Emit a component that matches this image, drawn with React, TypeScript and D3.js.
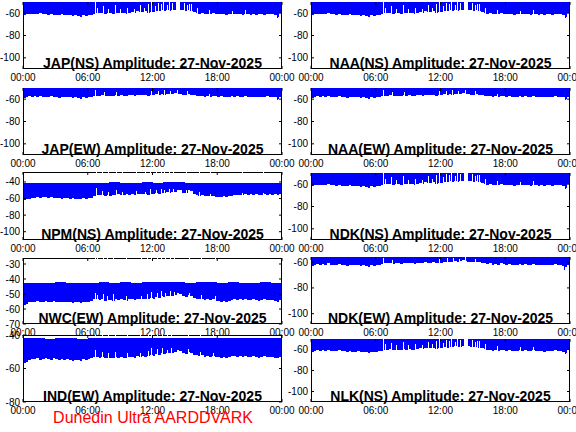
import React from "react";
import * as d3 from "d3";

const W = 576;
const H = 432;
const FONT = "'Liberation Sans', Arial, Helvetica, sans-serif";
const BLUE = "#0000ff";

const TIME_TICKS = [0, 6, 12, 18, 24];
const TIME_LABELS = ["00:00", "06:00", "12:00", "18:00", "00:00"];
const DATE_LABEL = "27-Nov-2025";
const FOOTER = "Dunedin Ultra AARDDVARK";

// lower edge of the amplitude band, 15-minute bins (dB)
const nsLow = [
  -62, -61, -60.5, -61, -60.5, -61, -60, -61, -61, -61.5, -60.5, -61.5,
  -61.5, -62, -61, -62, -62, -61.5, -62.5, -62, -62.5, -63, -62, -62.5,
  -62, -61.5, -61, -60, -60, -59.5, -60.5, -60, -60, -60.5, -59.5, -60,
  -59.5, -60, -60.5, -59.5, -59, -59.5, -58.5, -59, -59, -58.5, -59.5, -59,
  -59, -58, -58.5, -57.5, -58, -57, -58, -57.5, -57, -56, -57, -57.5,
  -58, -57.5, -58.5, -59, -59.5, -60.5, -60, -61, -60.5, -61, -60, -60.5,
  -61, -60.5, -61, -61.5, -61, -60.5, -61, -60.5, -61, -61.5, -60.5, -61,
  -61.5, -61, -62, -61, -61, -61.5, -60.5, -61, -61, -62, -63, -60,
];
const nsSpikes: [number, number][] = [
  [6.7, -50], [6.9, -55], [7.4, -54], [7.9, -56], [8.5, -53], [9.0, -56],
  [9.6, -55], [10.3, -56], [10.8, -53], [11.2, -55], [11.6, -52], [11.9, -50],
  [12.2, -54], [12.5, -51], [12.8, -52], [13.0, -50], [13.3, -53], [13.5, -50],
  [13.8, -51], [14.2, -48], [14.3, -48], [14.4, -48], [14.5, -48], [14.9, -51],
  [15.2, -53], [15.4, -52], [15.6, -52], [16.1, -55], [17.2, -57], [19.4, -58],
  [20.6, -57.5], [23.5, -64],
];

const ewLow = [
  -59, -58, -57.5, -58, -57.5, -58, -57, -58, -58, -58.5, -57.5, -58,
  -58.5, -59, -58, -58.5, -58.5, -58, -59, -58.5, -59, -59.5, -58.5, -59,
  -58.5, -58, -57.5, -57, -57, -56.5, -57.5, -57, -57, -57.5, -56.5, -57,
  -56.5, -57, -57.5, -56.5, -56.5, -57, -56, -56.5, -56.5, -56, -57, -56.5,
  -56.5, -55.5, -56, -55.5, -56, -55, -55.5, -55, -54.5, -55, -55.5, -56,
  -56, -55.5, -56, -56.5, -57, -57.5, -57, -58, -57.5, -58, -57, -57.5,
  -58, -57.5, -58, -58.5, -58, -57.5, -58, -57.5, -58, -58.5, -57.5, -58,
  -58.5, -58, -58.5, -58, -58, -58.5, -57.5, -58, -58, -58.5, -59.5, -58,
];
const ewSpikes: [number, number][] = [
  [6.7, -52], [7.5, -54], [8.6, -54], [11.9, -53], [12.5, -53], [13.1, -52],
  [13.6, -53], [14.3, -52], [15.2, -53], [17.2, -55], [23.5, -60.5],
];

const ndkEwLow = [
  -63, -62, -61.5, -62, -61.5, -62, -61, -62, -62, -62.5, -61.5, -62,
  -62.5, -63, -62, -62.5, -62.5, -62, -63, -62.5, -63, -63.5, -62.5, -63,
  -62.5, -62, -61.5, -61, -61, -60.5, -61.5, -61, -61, -61.5, -60.5, -61,
  -60.5, -61, -61.5, -60.5, -60.5, -61, -60, -60.5, -60.5, -60, -61, -60.5,
  -60.5, -59.5, -60, -59.5, -60, -59, -59.5, -59, -58.5, -59, -59.5, -60,
  -60, -59.5, -60, -60.5, -61, -61.5, -61, -62, -61.5, -62, -61, -61.5,
  -62, -61.5, -62, -62.5, -62, -61.5, -62, -61.5, -62, -62.5, -61.5, -62,
  -62.5, -62, -62.5, -62, -62, -62.5, -61.5, -62, -62, -63, -64, -62,
];
const ndkEwSpikes: [number, number][] = [
  [6.7, -57], [7.5, -58], [11.9, -57.5], [12.6, -57], [13.2, -56.5],
  [13.7, -57.5], [14.3, -56], [15.2, -57.5], [23.4, -66],
];

const npmHigh = [
  -41.5, -41.5, -41, -41.5, -41, -41.5, -41, -41, -40.5, -41, -41, -40.5,
  -41, -40.5, -40.5, -41, -41, -41.5, -41, -41, -41, -41.5, -41, -41.5,
];
const npmLow = [
  -62, -61, -60, -59.5, -59, -58.5, -59.5, -58.5, -58, -59, -58.5, -59,
  -59.5, -59, -60, -59, -59.5, -60, -59, -60, -60, -60.5, -59.5, -60,
  -59.5, -59, -57, -56, -56, -55.5, -57, -56, -56.5, -55.5, -56, -55,
  -55.5, -56, -55, -56, -55, -55.5, -54.5, -55, -55, -54.5, -55.5, -54.5,
  -54.5, -53.5, -54, -53, -53.5, -52.5, -53, -52.5, -52, -50, -50, -53,
  -53.5, -50, -50.5, -54, -55.5, -56.5, -56, -57, -57, -57.5, -57, -58,
  -58, -58.5, -57.5, -58.5, -57.5, -56.5, -56, -55.5, -55.5, -56, -55, -55.5,
  -55, -55.5, -55, -56, -55.5, -55, -55.5, -55, -55.5, -55, -56, -55,
];
const npmSpikes: [number, number][] = [
  [6.8, -47], [7.3, -51], [7.9, -52], [8.6, -50], [9.2, -52], [10.5, -51],
  [11.3, -52], [11.8, -49], [12.3, -50], [12.8, -48.5], [13.1, -50], [13.5, -48],
  [13.9, -49], [15.1, -50], [16.3, -52], [17.3, -54], [20.3, -53], [22.2, -53],
];

const nwcHigh = [
  -42.5, -42.5, -42.5, -42, -42.5, -42.5, -42.5, -42, -42.5, -42, -42.5, -42,
  -42, -42, -42, -42.5, -42, -42, -42.5, -42, -42.5, -42.5, -42, -42.5,
];
const nwcLow = [
  -57, -56.5, -55.5, -55, -55, -54.5, -55.5, -55, -54.5, -55, -55.5, -54.5,
  -55, -55.5, -55, -55.5, -55, -55.5, -56, -55.5, -55.5, -56, -55, -55.5,
  -55, -54.5, -53.5, -53.5, -54, -53.5, -54.5, -54, -54, -54.5, -53.5, -54,
  -53.5, -54, -54.5, -53.5, -53.5, -54, -53, -53.5, -53, -53.5, -53, -52.5,
  -53, -52, -52.5, -51.5, -52, -51, -51.5, -51, -50.5, -49.5, -50, -51.5,
  -52, -50.5, -51, -52.5, -53, -53.5, -53, -54, -53.5, -54, -53.5, -54.5,
  -54.5, -55, -54.5, -55, -54.5, -54, -53.5, -54, -53.5, -54, -53.5, -54,
  -54, -53.5, -54, -54.5, -54, -53.5, -54, -54, -54, -54.5, -55, -54,
];
const nwcSpikes: [number, number][] = [
  [6.7, -49], [6.9, -50.5], [7.4, -50], [7.8, -51], [8.3, -50], [9.5, -51.5],
  [10.9, -51], [11.5, -50], [11.9, -48.5], [12.4, -49], [12.8, -48], [13.2, -49],
  [13.6, -48], [14.0, -48.5], [15.4, -49], [16.5, -50.5], [17.8, -51.5],
];

const indHigh = [
  -42, -42, -42.5, -42, -42, -42.5, -42, -42, -41.5, -42, -42, -41.5,
  -41.5, -42, -41.5, -42, -41.5, -42, -42, -41.5, -42, -42, -41.5, -42,
];
const indLow = [
  -56.5, -56, -55, -54.5, -54.5, -54, -55, -54.5, -54, -54.5, -55, -54,
  -54.5, -55, -54.5, -55, -54.5, -55, -55.5, -55, -55, -55.5, -54.5, -55,
  -54.5, -54, -53, -53, -53.5, -53, -54, -53.5, -53.5, -54, -53, -53.5,
  -53, -53.5, -54, -53, -53, -53.5, -52.5, -53, -52.5, -53, -52.5, -52,
  -52.5, -51.5, -52, -51, -51.5, -50.5, -51, -50.5, -50, -49, -49.5, -51,
  -51.5, -50, -50.5, -52, -52, -52.5, -52, -53, -52.5, -53, -52.5, -53,
  -53, -53.5, -53, -53.5, -53, -52.5, -52.5, -53, -52.5, -53, -52.5, -53,
  -53, -52.5, -53, -53.5, -53, -52.5, -53, -53, -53, -53.5, -54, -53,
];
const indSpikes: [number, number][] = [
  [6.7, -49], [7.3, -50], [7.9, -51], [8.5, -50], [9.6, -51], [10.8, -50.5],
  [11.6, -49.5], [11.9, -48], [12.4, -48.5], [12.9, -48], [13.3, -49], [13.7, -48],
  [15.3, -48.5], [16.4, -50], [17.6, -51],
];

type Panel = {
  id: string;
  station: string;
  x0: number; x1: number; y0: number; y1: number;
  domain: [number, number];
  yTicks: number[];
  low: number[];
  high: number[] | null;
  spikes: [number, number][];
};

const LX = [23, 282];
const RX = [311, 570];

const panels: Panel[] = [
  { id: "p1", station: "JAP(NS)", x0: LX[0], x1: LX[1], y0: 2, y1: 69, domain: [-110, -50], yTicks: [-100, -80, -60], low: nsLow, high: null, spikes: nsSpikes },
  { id: "p2", station: "JAP(EW)", x0: LX[0], x1: LX[1], y0: 88, y1: 155, domain: [-110, -50], yTicks: [-100, -80, -60], low: ewLow, high: null, spikes: ewSpikes },
  { id: "p3", station: "NPM(NS)", x0: LX[0], x1: LX[1], y0: 172, y1: 240, domain: [-110, -28], yTicks: [-100, -80, -60, -40], low: npmLow, high: npmHigh, spikes: npmSpikes },
  { id: "p4", station: "NWC(EW)", x0: LX[0], x1: LX[1], y0: 258, y1: 324, domain: [-70, -26], yTicks: [-70, -60, -50, -40, -30], low: nwcLow, high: nwcHigh, spikes: nwcSpikes },
  { id: "p5", station: "IND(EW)", x0: LX[0], x1: LX[1], y0: 335, y1: 402, domain: [-80, -40], yTicks: [-80, -60, -40], low: indLow, high: indHigh, spikes: indSpikes },
  { id: "p6", station: "NAA(NS)", x0: RX[0], x1: RX[1], y0: 2, y1: 69, domain: [-110, -50], yTicks: [-100, -80, -60], low: nsLow, high: null, spikes: nsSpikes },
  { id: "p7", station: "NAA(EW)", x0: RX[0], x1: RX[1], y0: 88, y1: 155, domain: [-110, -50], yTicks: [-100, -80, -60], low: ewLow, high: null, spikes: ewSpikes },
  { id: "p8", station: "NDK(NS)", x0: RX[0], x1: RX[1], y0: 173, y1: 240, domain: [-110, -50], yTicks: [-100, -80, -60], low: nsLow, high: null, spikes: nsSpikes },
  { id: "p9", station: "NDK(EW)", x0: RX[0], x1: RX[1], y0: 257, y1: 324, domain: [-108, -56], yTicks: [-100, -80, -60], low: ndkEwLow, high: null, spikes: ndkEwSpikes },
  { id: "p10", station: "NLK(NS)", x0: RX[0], x1: RX[1], y0: 339, y1: 402, domain: [-110, -50], yTicks: [-100, -80, -60], low: nsLow, high: null, spikes: nsSpikes },
];

type Pt = { t: number; lo: number; hi: number | null };

function PanelView({ p }: { p: Panel }) {
  const xs = d3.scaleLinear().domain([0, 24]).range([p.x0, p.x1]);
  const ys = d3.scaleLinear().domain(p.domain).range([p.y1, p.y0]);
  const bin = 24 / p.low.length;
  const hiAt = (t: number) =>
    p.high ? p.high[Math.min(p.high.length - 1, Math.floor(t))] : null;
  const topY = (hi: number | null) => (hi === null ? p.y0 - 2 : ys(hi));

  const pts: Pt[] = p.low.map((v, i) => ({ t: i * bin, lo: v, hi: hiAt(i * bin) }));
  pts.push({ t: 24, lo: p.low[p.low.length - 1], hi: hiAt(23.99) });

  const area = d3
    .area<Pt>()
    .curve(d3.curveStepAfter)
    .x((d) => xs(d.t))
    .y0((d) => ys(d.lo))
    .y1((d) => topY(d.hi));

  const clipId = `clip-${p.id}`;
  const w = p.x1 - p.x0;
  const h = p.y1 - p.y0;
  return (
    <g>
      <rect x={p.x0} y={p.y0} width={w} height={h} fill="#fff" />
      <rect x={p.x0 + 0.5} y={p.y0 + 0.5} width={w - 1} height={h - 1} fill="none" stroke="#000" strokeWidth={1} />
      <defs>
        <clipPath id={clipId}>
          <rect x={p.x0 + 1} y={p.y0} width={w - 2} height={h - 1} />
        </clipPath>
      </defs>
      <g clipPath={`url(#${clipId})`} shapeRendering="crispEdges">
        <path d={area(pts) || ""} fill={BLUE} />
        {p.spikes.map(([t, v], i) => {
          const top = topY(hiAt(t));
          const bottom = Math.max(ys(v), top);
          const sx = Math.round(xs(t));
          return (
            <g key={`s${i}`}>
              <rect x={sx} y={p.y0} width={1} height={h} fill="#fff" />
              <rect x={sx} y={top} width={1} height={Math.max(0, bottom - top)} fill={BLUE} />
            </g>
          );
        })}
      </g>
      {p.yTicks.map((t) => (
        <g key={`y${t}`}>
          <line x1={p.x0} x2={p.x0 + 3} y1={ys(t)} y2={ys(t)} stroke="#000" />
          <line x1={p.x1} x2={p.x1 - 3} y1={ys(t)} y2={ys(t)} stroke="#000" />
          <text x={p.x0 - 3} y={ys(t) + 3.5} textAnchor="end" fontFamily={FONT} fontSize={10} fill="#000">
            {String(t)}
          </text>
        </g>
      ))}
      {TIME_TICKS.map((t, i) => (
        <g key={`x${i}`}>
          <line x1={xs(t)} x2={xs(t)} y1={p.y1} y2={p.y1 - 3} stroke="#000" />
          <line x1={xs(t)} x2={xs(t)} y1={p.y0} y2={p.y0 + 3} stroke="#000" />
          <text x={xs(t)} y={p.y1 + 12} textAnchor="middle" fontFamily={FONT} fontSize={10} fill="#000">
            {TIME_LABELS[i]}
          </text>
        </g>
      ))}
      <text x={(p.x0 + p.x1) / 2} y={p.y1 - 1.5} textAnchor="middle" fontFamily={FONT}
        fontSize={14} fontWeight="bold" fill="#000">
        {`${p.station} Amplitude: ${DATE_LABEL}`}
      </text>
    </g>
  );
}

export default function App() {
  return (
    <div style={{ position: "fixed", left: 0, top: 0, width: W, height: H, background: "#fff" }}>
      <svg width={W} height={H} viewBox={`0 0 ${W} ${H}`} style={{ display: "block" }}>
        <rect x={0} y={0} width={W} height={H} fill="#fff" />
        {panels.map((p) => (
          <PanelView key={p.id} p={p} />
        ))}
        <text x={153} y={423} textAnchor="middle" fontFamily={FONT} fontSize={16} fill="#ff0000">
          {FOOTER}
        </text>
      </svg>
    </div>
  );
}
